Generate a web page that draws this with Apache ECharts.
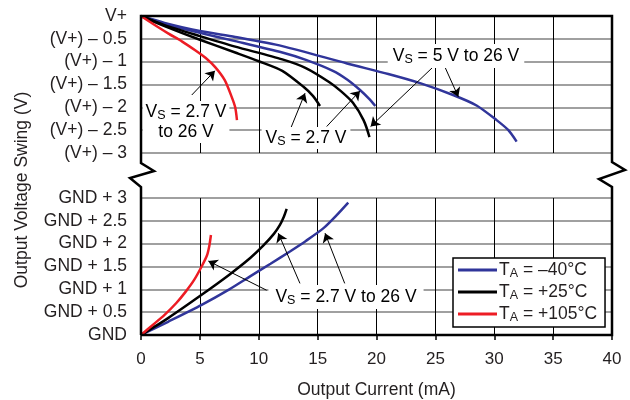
<!DOCTYPE html>
<html>
<head>
<meta charset="utf-8">
<script src="https://cdn.jsdelivr.net/npm/echarts@6/dist/echarts.min.js"></script>
<style>
html,body{margin:0;padding:0;background:#fff;}
#chart{width:630px;height:400px;}
</style>
</head>
<body>
<div id="chart"></div>
<script>
// upper panel: offset from V+ (V), lower panel: offset from GND (V); x = output current (mA)
const upperBlueLong  = [[0,0],[2,-0.15],[5,-0.33],[8,-0.46],[12,-0.66],[17.5,-1.04],[21,-1.27],[23.7,-1.47],[26.5,-1.73],[28.5,-1.96],[30.2,-2.28],[31.2,-2.5],[31.9,-2.75]];
const upperBlueShort = [[0,0],[2,-0.17],[5,-0.37],[8,-0.55],[12,-0.8],[14,-0.96],[16.3,-1.2],[17.5,-1.39],[18.6,-1.62],[19.4,-1.82],[19.9,-1.97]];
const upperBlackLong = [[0,0],[2,-0.2],[5,-0.44],[8,-0.67],[12,-0.95],[14,-1.14],[16,-1.45],[17,-1.65],[18,-1.9],[18.9,-2.28],[19.4,-2.65]];
const upperBlackShort = [[0,0],[2,-0.22],[5,-0.52],[8,-0.8],[10,-0.99],[12,-1.2],[13.8,-1.55],[14.6,-1.75],[15.2,-1.97]];
const upperRed = [[0,0],[1,-0.17],[2.3,-0.38],[3.5,-0.56],[4.6,-0.75],[5.5,-0.92],[6.3,-1.12],[7.1,-1.4],[7.7,-1.77],[8.0,-2.0],[8.15,-2.28]];

const lowerBlue  = [[0,0],[2.3,0.29],[5.15,0.66],[7.5,1.0],[9.3,1.29],[11,1.56],[12.65,1.83],[14,2.06],[15.5,2.34],[16.6,2.62],[17.6,2.9]];
const lowerBlack = [[0,0],[2.3,0.37],[5.15,0.88],[7.5,1.32],[9.3,1.69],[10.4,1.96],[11.3,2.22],[11.8,2.41],[12.15,2.6],[12.37,2.76]];
const lowerRed   = [[0,0],[1,0.22],[2,0.44],[3,0.7],[3.8,0.95],[4.5,1.2],[5.15,1.5],[5.6,1.74],[5.8,1.95],[5.94,2.19]];

const upperTickLabels = ['(V+) – 3','(V+) – 2.5','(V+) – 2','(V+) – 1.5','(V+) – 1','(V+) – 0.5','V+'];
const lowerTickLabels = ['GND','GND + 0.5','GND + 1','GND + 1.5','GND + 2','GND + 2.5','GND + 3'];
const tempNames = ['–40°C','+25°C','+105°C'];

// arrows [from, to] in data coords
const upperArrows = [
  [[4.31,-1.73],[6.28,-1.2]],
  [[12.65,-2.5],[13.93,-1.69]],
  [[15.77,-2.42],[18.6,-1.64]],
  [[24.83,-1.11],[19.5,-2.42]],
  [[25.8,-1.11],[26.95,-1.77]]
];
const lowerArrows = [
  [[10.67,0.98],[5.72,1.62]],
  [[13.5,1.13],[11.66,2.23]],
  [[17.3,1.13],[15.63,2.23]]
];

const BLUE = '#30359a', BLACK = '#000', RED = '#ed1c24';
const FONT = '"Liberation Sans", Arial, Helvetica, sans-serif';
const TXT = '#231f20';

const chart = echarts.init(document.getElementById('chart'));

const rich = {
  t: {fontSize: 17.5, fontFamily: FONT, color: TXT, lineHeight: 20, verticalAlign: 'middle'},
  s: {fontSize: 12.5, fontFamily: FONT, color: TXT, lineHeight: 12, verticalAlign: 'bottom'}
};

function curve(name, color, gi, data, extra) {
  return Object.assign({
    name: name, type: 'line', xAxisIndex: gi, yAxisIndex: gi,
    data: data, showSymbol: false, symbol: 'none',
    smooth: 0.25,
    lineStyle: {color: color, width: 2.5}, itemStyle: {color: color},
    z: 3
  }, extra || {});
}

function arrows(list) {
  return {
    silent: true, symbol: ['none', 'arrow'], symbolSize: 9,
    label: {show: false},
    lineStyle: {color: '#000', width: 1, type: 'solid'},
    data: list.map(a => [{coord: a[0]}, {coord: a[1]}])
  };
}

function note(text, x, y, pad) {
  return {
    type: 'text', x: x, y: y, z: 50,
    style: {
      text: text, rich: rich, align: 'center', verticalAlign: 'middle',
      backgroundColor: '#fff', padding: pad
    }
  };
}

const gridSplitX = {show: true, lineStyle: {color: '#000', width: 1}};
const gridSplitY = {show: true, lineStyle: {color: '#808080', width: 1.6}};

const option = {
  animation: false,
  textStyle: {fontFamily: FONT, color: TXT},
  grid: [
    {left: 141, right: 18, top: 16, height: 137},
    {left: 141, right: 18, top: 198, height: 137}
  ],
  xAxis: [
    {gridIndex: 0, type: 'value', min: 0, max: 40, interval: 5,
     axisLine: {show: false}, axisTick: {show: false}, axisLabel: {show: false}, splitLine: gridSplitX},
    {gridIndex: 1, type: 'value', min: 0, max: 40, interval: 5,
     axisLine: {show: false},
     axisTick: {show: true, length: 5, lineStyle: {color: '#000', width: 1.5}},
     axisLabel: {fontSize: 17, color: TXT, margin: 16, fontFamily: FONT},
     splitLine: gridSplitX,
     name: 'Output Current (mA)', nameLocation: 'middle', nameGap: 46,
     nameTextStyle: {fontSize: 17.5, color: TXT, fontFamily: FONT}}
  ],
  yAxis: [
    {gridIndex: 0, type: 'value', min: -3, max: 0, interval: 0.5,
     axisLine: {show: false}, axisTick: {show: false},
     axisLabel: {fontSize: 17.5, color: TXT, margin: 14, fontFamily: FONT,
       formatter: v => upperTickLabels[Math.round((v + 3) * 2)]},
     splitLine: gridSplitY},
    {gridIndex: 1, type: 'value', min: 0, max: 3, interval: 0.5,
     axisLine: {show: false}, axisTick: {show: false},
     axisLabel: {fontSize: 17.5, color: TXT, margin: 14, fontFamily: FONT,
       formatter: v => lowerTickLabels[Math.round(v * 2)]},
     splitLine: gridSplitY}
  ],
  legend: {
    data: tempNames, orient: 'vertical', left: 453, top: 258,
    backgroundColor: '#fff', borderColor: '#000', borderWidth: 1.5, borderRadius: 0,
    padding: [3, 8, 3, 5], itemGap: 3, itemWidth: 39, itemHeight: 3, icon: 'rect',
    z: 60,
    formatter: n => '{t|T}{s|A}{t| = ' + n + '}',
    textStyle: {rich: rich, padding: [0, 0, 0, -3]}
  },
  graphic: [
    {type: 'polyline', z: 100, silent: true,
     shape: {points: [[141,335],[141,187],[130,178],[154,171],[141,163],[141,16],[612,16],[612,162],[625,170],[599,179],[612,187],[612,335],[141,335]]},
     style: {stroke: '#000', lineWidth: 2.5, fill: null, lineJoin: 'miter'}},
    {type: 'text', x: 22, y: 190, rotation: Math.PI / 2, z: 50,
     style: {text: 'Output Voltage Swing (V)', font: '17.5px ' + FONT, fill: TXT, align: 'center', verticalAlign: 'middle'}},
    note('{t|V}{s|S}{t| = 2.7 V}\n{t|to 26 V}', 186, 122, [1, 3]),
    note('{t|V}{s|S}{t| = 2.7 V}', 306, 138, [1, 4]),
    note('{t|V}{s|S}{t| = 5 V to 26 V}', 456, 56, [2, 5]),
    note('{t|V}{s|S}{t| = 2.7 V to 26 V}', 346, 297, [2, 7])
  ],
  series: [
    curve(tempNames[0], BLUE, 0, upperBlueLong),
    curve(tempNames[0], BLUE, 0, upperBlueShort),
    curve(tempNames[1], BLACK, 0, upperBlackLong),
    curve(tempNames[1], BLACK, 0, upperBlackShort),
    curve(tempNames[2], RED, 0, upperRed, {markLine: arrows(upperArrows)}),
    curve(tempNames[0], BLUE, 1, lowerBlue),
    curve(tempNames[1], BLACK, 1, lowerBlack),
    curve(tempNames[2], RED, 1, lowerRed, {markLine: arrows(lowerArrows)})
  ]
};

chart.setOption(option);
window.addEventListener('resize', () => chart.resize());
</script>
</body>
</html>
